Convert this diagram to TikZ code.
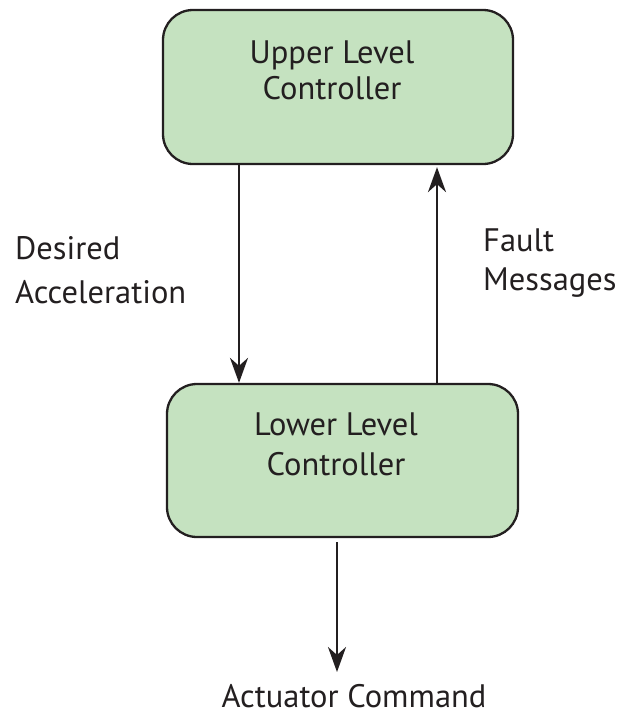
\documentclass[tikz,border=0pt]{standalone}
\usepackage{fontspec}
\setmainfont{PT Sans}
\usetikzlibrary{arrows.meta,calc}
\definecolor{boxgreen}{RGB}{197,226,192}
\definecolor{ink}{RGB}{35,31,32}
\tikzset{
  ctrlbox/.style={draw=ink, line width=2.3pt, fill=boxgreen, rounded corners=30pt, inner sep=0pt},
  txt/.style={font=\fontsize{32.5}{38}\selectfont, text=ink, inner sep=0pt, anchor=base, text depth=0pt},
  flow/.style={draw=ink, line width=2.3pt, -{Stealth[length=25pt,width=18pt,inset=8pt]}},
}
\begin{document}
\begin{tikzpicture}[x=1pt,y=1pt]
\useasboundingbox (0,0) rectangle (621,-715);
\node[ctrlbox, minimum width=350pt, minimum height=154pt] (upper) at (338,-87) {};
\node[ctrlbox, minimum width=351pt, minimum height=153pt] (lower) at (342.5,-460.5) {};
\node[txt] (u1) at (332,-63) {Upper Level};
\node[txt] (u2) at (332,-99) {Controller};
\node[txt] (l1) at (336,-435) {Lower Level};
\node[txt] (l2) at (336,-475) {Controller};
\node[txt, anchor=base west] (d1) at (15,-259) {Desired};
\node[txt, anchor=base west] (d2) at (15,-303) {Acceleration};
\node[txt, anchor=base west] (f1) at (483,-251) {Fault};
\node[txt, anchor=base west] (f2) at (483,-290) {Messages};
\node[txt] (act) at (354,-707) {Actuator Command};
\coordinate (actend) at (337,-672);
\draw[flow] (upper.south -| 239,0) -- (lower.north -| 239,0);
\draw[flow, shorten >=2pt] (lower.north -| 437,0) -- (upper.south -| 437,0);
\draw[flow, shorten <=4pt] (lower.south -| actend) -- (actend);
\end{tikzpicture}
\end{document}
